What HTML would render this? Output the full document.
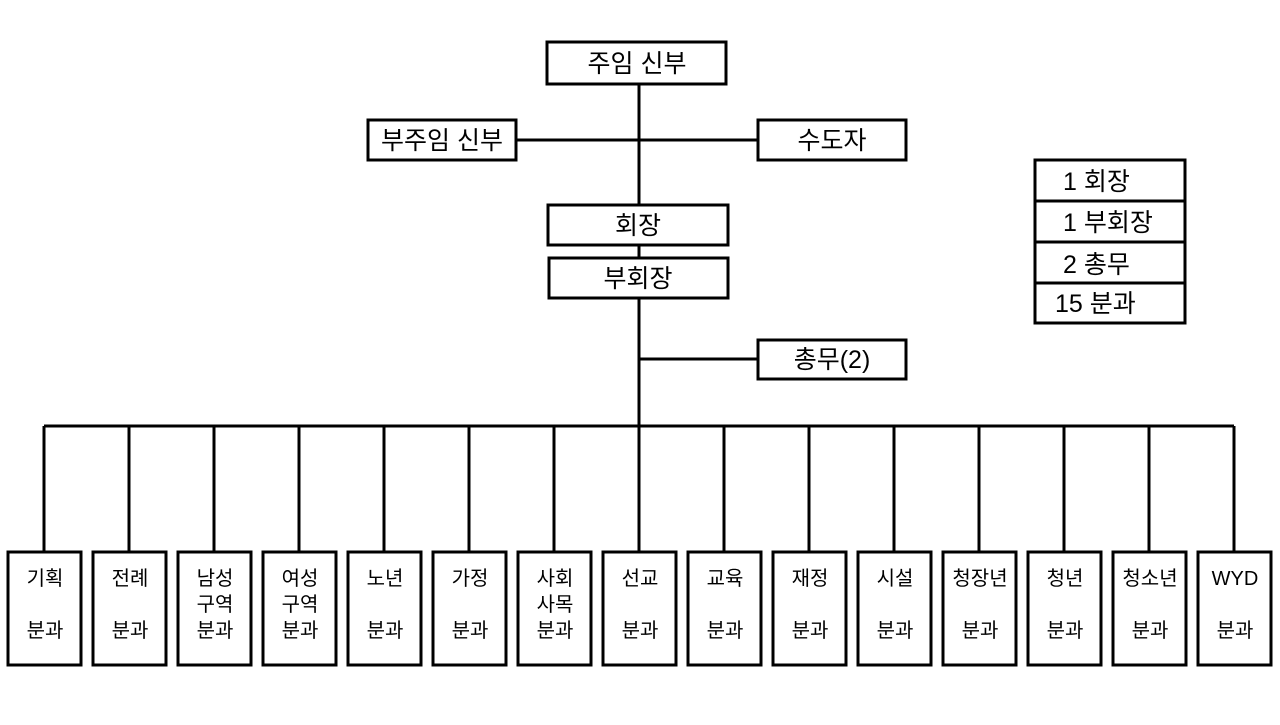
<!DOCTYPE html>
<html><head><meta charset="utf-8"><style>
body{margin:0;background:#fff;}
svg text{font-family:"Liberation Sans","Noto Sans CJK KR",sans-serif;fill:#000;}
</style></head><body>
<svg width="1280" height="720" viewBox="0 0 1280 720" xmlns="http://www.w3.org/2000/svg">
<g stroke="#000" stroke-width="3" fill="none">
<line x1="639" y1="84" x2="639" y2="426"/>
<line x1="516" y1="140" x2="758" y2="140"/>
<line x1="639" y1="359" x2="758" y2="359"/>
<line x1="44" y1="426" x2="1234" y2="426"/>
<rect x="547" y="42" width="179" height="42" fill="#fff"/>
<rect x="368" y="120" width="148" height="40" fill="#fff"/>
<rect x="758" y="120" width="148" height="40" fill="#fff"/>
<rect x="548" y="205" width="180" height="40" fill="#fff"/>
<rect x="549" y="258" width="179" height="40" fill="#fff"/>
<rect x="758" y="340" width="148" height="39" fill="#fff"/>
<rect x="1035" y="160" width="150" height="163"/>
<line x1="1035" y1="201" x2="1185" y2="201"/>
<line x1="1035" y1="242" x2="1185" y2="242"/>
<line x1="1035" y1="283" x2="1185" y2="283"/>
</g>
<g font-size="25" text-anchor="middle">
<text x="637" y="72">주임 신부</text>
<text x="442" y="149">부주임 신부</text>
<text x="832" y="149">수도자</text>
<text x="638" y="234">회장</text>
<text x="638" y="287">부회장</text>
<text x="832" y="368">총무(2)</text>
</g>
<g font-size="25">
<text x="1063" y="190">1 회장</text>
<text x="1063" y="231">1 부회장</text>
<text x="1063" y="273">2 총무</text>
<text x="1055" y="312">15 분과</text>
</g>
<g id="bottom" stroke="#000" stroke-width="3" fill="none">
</g>
<g font-size="20" text-anchor="middle" id="bt"></g>
</svg>
<script>
var names=[["기획","","분과"],["전례","","분과"],["남성","구역","분과"],["여성","구역","분과"],["노년","","분과"],["가정","","분과"],["사회","사목","분과"],["선교","","분과"],["교육","","분과"],["재정","","분과"],["시설","","분과"],["청장년","","분과"],["청년","","분과"],["청소년","","분과"],["WYD","","분과"]];
var ns="http://www.w3.org/2000/svg",g=document.getElementById("bottom"),t=document.getElementById("bt");
names.forEach(function(n,i){
 var cx=44+85*i;
 var l=document.createElementNS(ns,"line");l.setAttribute("x1",cx);l.setAttribute("x2",cx);l.setAttribute("y1",426);l.setAttribute("y2",552);g.appendChild(l);
 var r=document.createElementNS(ns,"rect");r.setAttribute("x",cx-36);r.setAttribute("y",552);r.setAttribute("width",73);r.setAttribute("height",113);g.appendChild(r);
 [585,611,637].forEach(function(y,k){if(!n[k])return;var e=document.createElementNS(ns,"text");e.setAttribute("x",cx+1);e.setAttribute("y",y);e.textContent=n[k];t.appendChild(e);});
});
</script>
</body></html>
